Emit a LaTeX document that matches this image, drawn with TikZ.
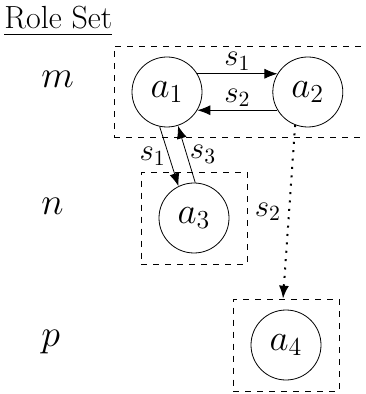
\documentclass[tikz,border=0pt]{standalone}
\usepackage{fix-cm}
\usepackage{amsmath}
\usetikzlibrary{positioning,arrows.meta,fit}
\tikzset{
  agent/.style={draw, circle, minimum size=35pt, inner sep=0pt, font=\fontsize{18.5}{22}\selectfont},
  rolebox/.style={draw, dashed, inner xsep=8.75pt, inner ysep=5.25pt},
  rolename/.style={anchor=base west, inner sep=0pt, font=\fontsize{19}{22}\selectfont},
  lbl/.style={font=\fontsize{15.5}{18}\selectfont, inner sep=1.5pt},
  msg/.style={-{Latex[length=6.5pt,width=5pt]}},
  dotmsg/.style={msg, line width=1pt, dash pattern=on 1pt off 3.2pt},
}
\begin{document}
\begin{tikzpicture}[x=0.5pt, y=-0.5pt]
  \useasboundingbox (0,0) rectangle (365,394);

  \node[anchor=base west, inner sep=0pt, font=\fontsize{16}{19}\selectfont] (title) at (4,29) {\underline{Role Set}};

  % row names
  \node[rolename] (m) at (41,88)  {$m$};
  \node[rolename] (n) at (41,215) {$n$};
  \node[rolename] (p) at (41,346) {$p$};

  % agents
  \node[agent] (a1) at (167,92) {$a_1$};
  \node[agent, right=35pt of a1] (a2) {$a_2$};
  \node[agent] (a3) at (194,218) {$a_3$};
  \node[agent] (a4) at (286,345) {$a_4$};

  % role sets
  \coordinate (cut) at (372,92);
  \node[rolebox, fit=(a1)(cut)] (b1) {};
  \node[rolebox, fit=(a3)] (b3) {};
  \node[rolebox, fit=(a4)] (b4) {};

  \draw[msg] (a1.31) -- node[lbl, above] {$s_1$} (a2.149);
  \draw[msg] (a2.211) -- node[lbl, above] {$s_2$} (a1.329);
  \draw[msg] (a1.258) -- node[lbl, left] {$s_1$} (a3.116);
  \draw[msg] (a3.88) -- node[lbl, right] {$s_3$} (a1.288);
  \draw[dotmsg] (a2.249) -- node[lbl, left, xshift=-2pt] {$s_2$} ([xshift=-1.5pt]b4.north);
\end{tikzpicture}
\end{document}
